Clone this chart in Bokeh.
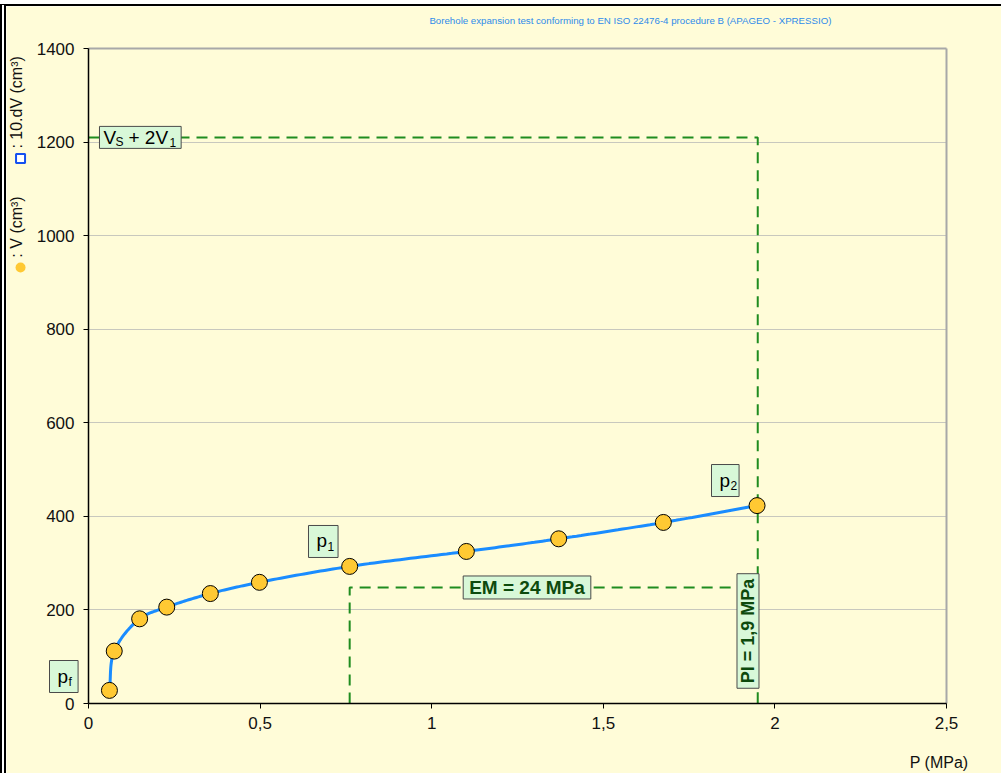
import numpy as np
from bokeh.plotting import figure
from bokeh.models import Label, FixedTicker, Range1d, Grid
from bokeh.embed import file_html
from bokeh.resources import INLINE

# Pressuremeter readings: pressure (MPa) against injected volume (cm3)
P_MPA = [0.061, 0.075, 0.149, 0.228, 0.355, 0.498, 0.761, 1.101, 1.370, 1.675, 1.948]
V_CM3 = [28, 112, 181, 206, 235, 259, 293, 325, 352, 387, 423]

# Characteristic values of the test
P1_MPA = 0.761        # start of the pseudo-elastic range
PL_MPA = 1.95         # limit pressure
V_LIMIT = 1210        # Vs + 2V1
V_EM = 248            # level of the modulus bracket
EM_TEXT = "EM = 24 MPa"
PL_TEXT = "Pl = 1,9 MPa"

X_TICKS = [0, 0.5, 1, 1.5, 2, 2.5]
X_TICK_LABELS = ["0", "0,5", "1", "1,5", "2", "2,5"]
Y_TICKS = [0, 200, 400, 600, 800, 1000, 1200, 1400]

TITLE = "Borehole expansion test conforming to EN ISO 22476-4 procedure B (APAGEO - XPRESSIO)"

BG = "#FFFCD8"
GREEN = "#1F8C1F"
DARK_GREEN = "#0D4A0D"
BOX_FILL = "#D8F8D8"
BOX_LINE = "#4A4A4A"
FONT = "Liberation Sans"

# plotting area (axes box) and the margins around it, in pixels
AREA_W, AREA_H = 858, 655
M_LEFT, M_RIGHT, M_TOP, M_BOTTOM = 82, 55, 42, 70
X0, X1, Y0, Y1 = 0, 2.5, 0, 1400
SX = AREA_W / (X1 - X0)
SY = AREA_H / (Y1 - Y0)


def smooth_curve(xs, ys, n=24, alpha=0.5):
    """Centripetal Catmull-Rom spline through the readings, in screen-like units."""
    pts = np.column_stack([np.asarray(xs) * SX, np.asarray(ys) * SY]).astype(float)
    p = np.vstack([2 * pts[0] - pts[1], pts, 2 * pts[-1] - pts[-2]])
    out = []
    for i in range(1, len(p) - 2):
        p0, p1, p2, p3 = p[i - 1], p[i], p[i + 1], p[i + 2]
        t0 = 0.0
        t1 = t0 + np.linalg.norm(p1 - p0) ** alpha
        t2 = t1 + np.linalg.norm(p2 - p1) ** alpha
        t3 = t2 + np.linalg.norm(p3 - p2) ** alpha
        t = np.linspace(t1, t2, n)[:, None]
        a1 = (t1 - t) / (t1 - t0) * p0 + (t - t0) / (t1 - t0) * p1
        a2 = (t2 - t) / (t2 - t1) * p1 + (t - t1) / (t2 - t1) * p2
        a3 = (t3 - t) / (t3 - t2) * p2 + (t - t2) / (t3 - t2) * p3
        b1 = (t2 - t) / (t2 - t0) * a1 + (t - t0) / (t2 - t0) * a2
        b2 = (t3 - t) / (t3 - t1) * a2 + (t - t1) / (t3 - t1) * a3
        c = (t2 - t) / (t2 - t1) * b1 + (t - t1) / (t2 - t1) * b2
        out.append(c if i == len(p) - 3 else c[:-1])
    c = np.vstack(out)
    return c[:, 0] / SX, c[:, 1] / SY


# the frame spans the whole canvas; axes are pinned at the origin
p = figure(
    frame_width=M_LEFT + AREA_W + M_RIGHT, frame_height=M_TOP + AREA_H + M_BOTTOM,
    x_range=Range1d(X0 - M_LEFT / SX, X1 + M_RIGHT / SX),
    y_range=Range1d(Y0 - M_BOTTOM / SY, Y1 + M_TOP / SY),
    min_border=0,
    output_backend="svg", toolbar_location=None,
    background_fill_color=BG, border_fill_color=BG,
    outline_line_color=None,
    styles={"border-top": "2px solid black", "border-left": "6px double black",
            "margin-top": "4px"},
)

# axes
p.xaxis.fixed_location = Y0
p.yaxis.fixed_location = X0
p.xaxis.bounds = (X0, X1)
p.yaxis.bounds = (Y0, Y1)
p.xaxis.ticker = FixedTicker(ticks=X_TICKS)
p.xaxis.major_label_overrides = {t: s for t, s in zip(X_TICKS, X_TICK_LABELS)}
p.yaxis.ticker = FixedTicker(ticks=Y_TICKS)
for ax in (p.xaxis[0], p.yaxis[0]):
    ax.axis_line_color = "black"
    ax.axis_line_width = 1.5
    ax.major_tick_line_color = "black"
    ax.major_tick_out = 5
    ax.major_tick_in = 0
    ax.minor_tick_line_color = None
    ax.major_label_text_font = FONT
    ax.major_label_text_font_size = "17px"
    ax.major_label_text_color = "#111111"
p.xaxis.major_label_standoff = 8
p.yaxis.major_label_standoff = 9

# horizontal grid inside the axes box, plus its grey top and right edges
p.xgrid.visible = False
p.ygrid.ticker = FixedTicker(ticks=Y_TICKS[1:-1])
p.ygrid.cross_bounds = (X0, X1)
p.ygrid.grid_line_color = "#C8C8BE"
p.ygrid.grid_line_width = 1
p.add_layout(Grid(dimension=1, ticker=FixedTicker(ticks=[Y1]), cross_bounds=(X0, X1),
                  grid_line_color="#A8A8A8", grid_line_width=2))
p.add_layout(Grid(dimension=0, ticker=FixedTicker(ticks=[X1]), cross_bounds=(Y0, Y1),
                  grid_line_color="#A8A8A8", grid_line_width=2))

# construction lines
dash = dict(line_color=GREEN, line_width=2, line_dash="11 7")
p.line([X0, PL_MPA, PL_MPA], [V_LIMIT, V_LIMIT, Y0], **dash)
p.line([P1_MPA, P1_MPA, PL_MPA], [Y0, V_EM, V_EM], **dash)

# pressuremeter curve and readings
cx, cy = smooth_curve(P_MPA, V_CM3)
p.line(cx, cy, line_color="#1A8CFF", line_width=3)
p.scatter(P_MPA, V_CM3, size=16, marker="circle", fill_color="#FFC933",
          line_color="black", line_width=1)


def add_label(x, y, text, size, x_offset=0, y_offset=0, **kw):
    opts = dict(text_font=FONT, text_font_size=f"{size}px", text_align="left",
                text_baseline="middle", text_color="black")
    opts.update(kw)
    p.add_layout(Label(x=x, y=y, text=text, x_offset=x_offset, y_offset=y_offset, **opts))


def box_style(left, right, top, bottom):
    return dict(background_fill_color=BOX_FILL, border_line_color=BOX_LINE,
                border_line_width=1,
                padding=dict(left=left, right=right, top=top, bottom=bottom))


# Vs + 2V1
add_label(0.032, V_LIMIT, "V", 19, **box_style(4, 65, 1, 0))
add_label(0.032, V_LIMIT, "S", 12, x_offset=16, y_offset=-5)
add_label(0.032, V_LIMIT, "+ 2V", 19, x_offset=29)
add_label(0.032, V_LIMIT, "1", 12, x_offset=70, y_offset=-5)

# pf, p1, p2 markers
for lx, ly, sub, w in [(-0.1136, 57.7, "f", 29), (0.641, 346.3, "1", 30), (1.8153, 476.6, "2", 28)]:
    add_label(lx, ly, "p", 19, **box_style(8, w - 8 - 11, 5, 6))
    add_label(lx, ly, sub, 12, x_offset=19, y_offset=-5)

# modulus and limit pressure
add_label(1.2777, V_EM, EM_TEXT, 19, text_align="center", text_font_style="bold",
          text_color=DARK_GREEN, **box_style(6, 6, 1, 1))
add_label(1.9216, 155, PL_TEXT, 18, text_align="center", text_font_style="bold",
          text_color=DARK_GREEN, angle=np.pi / 2, **box_style(5, 5, 1, 1))

# axis captions
add_label(2.564, -126, "P (MPa)", 16, text_align="right", text_baseline="alphabetic",
          text_color="#111111")
add_label(-0.209, 953, ": V (cm³)", 16, angle=np.pi / 2, text_color="#111111")
add_label(-0.209, 1186, ": 10.dV (cm³)", 16, angle=np.pi / 2, text_color="#111111")
p.scatter([-0.198], [932], size=10, marker="circle", fill_color="#FFC933", line_color=None)
p.scatter([-0.198], [1165], size=9, marker="square", fill_color="white",
          line_color="#1450F0", line_width=2)

# title
add_label(1.579, 1460, TITLE, 9.7, text_align="center", text_color="#2E8BEA")

open("out.html", "w").write(file_html(p, INLINE))
